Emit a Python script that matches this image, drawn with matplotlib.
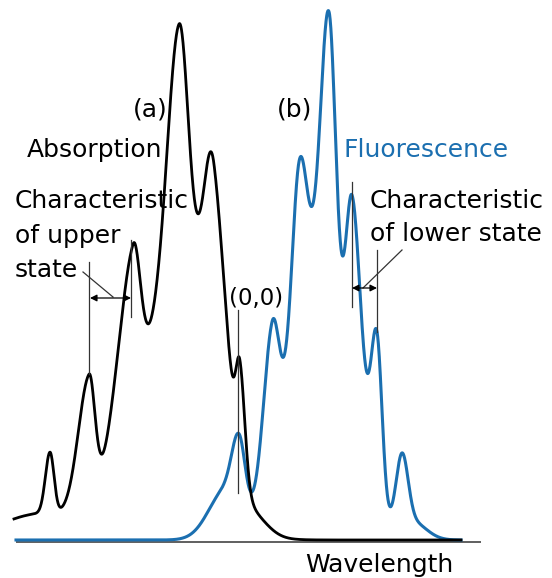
import numpy as np
import matplotlib
matplotlib.use("Agg")
import matplotlib.pyplot as plt

# ---- data (schematic spectra: band centres, heights, left/right widths; arbitrary units) ----
abs_centers = [40, 160, 205, 255, 50, 89, 133, 179, 214, 240]
abs_heights = [26, 200, 140, 14, 61, 126, 145, 277, 181, 98]
abs_wleft = [40, 35, 20, 14, 4.6, 11, 15, 12, 9, 4]
abs_wright = [40, 40, 14, 14, 4, 5.8, 7, 9, 15, 5]

flu_centers = [226, 312, 352, 362, 412, 239, 272, 299, 329, 352, 377, 402]
flu_heights = [50, 265, 90, 40, 18, 65, 150, 148, 282, 164, 153, 71]
flu_wleft = [17, 24, 18, 10, 14, 7, 9, 7, 8, 6, 5.5, 6]
flu_wright = [18, 24, 18, 10, 14, 6, 7, 7.4, 6.6, 7.3, 5.2, 6]

upper_pair = (89, 133)   # absorption bands marked "characteristic of upper state"
lower_pair = (352, 377)  # fluorescence bands marked "characteristic of lower state"
origin_band = 239        # (0,0) band

labels = {
    "a": "(a)", "b": "(b)", "abs": "Absorption", "flu": "Fluorescence",
    "origin": "(0,0)", "xlabel": "Wavelength",
}
upper_text = ["Characteristic", "of upper", "state"]
lower_text = ["Characteristic", "of lower state"]

BLUE = "#1b6fb0"
plt.rcParams["font.family"] = ["DejaVu Sans"]


def spectrum(x, centers, heights, wl, wr):
    x = np.asarray(x, dtype=float)
    y = np.zeros_like(x)
    for c, h, a, b in zip(centers, heights, wl, wr):
        w = np.where(x < c, a, b)
        y += h * np.exp(-0.5 * ((x - c) / w) ** 2)
    return y


ABS = (abs_centers, abs_heights, abs_wleft, abs_wright)
FLU = (flu_centers, flu_heights, flu_wleft, flu_wright)


def at(xv, comp):
    return float(spectrum([xv], *comp)[0])


fig = plt.figure(figsize=(5.52, 5.78), dpi=100)
ax = fig.add_axes([0, 0, 1, 1])
ax.set_xlim(0, 552)
ax.set_ylim(-38, 540)
ax.axis("off")

x_abs = np.linspace(14, 461, 2500)
x_flu = np.linspace(16, 461, 2500)
y_abs = spectrum(x_abs, *ABS)
y_flu = spectrum(x_flu, *FLU)

# axis line
ax.plot([16, 481], [-2, -2], color="#444444", lw=1.2, solid_capstyle="butt", zorder=1)

ax.plot(x_flu, y_flu, color=BLUE, lw=2.2, zorder=3)
ax.plot(x_abs, y_abs, color="black", lw=2.0, zorder=4)

ann = dict(color="#333333", lw=0.9, zorder=5)
# upper-state marks
u1, u2 = upper_pair
ax.plot([u1, u1], [at(u1, ABS), 278], **ann)
ax.plot([u2 - 2, u2 - 2], [223, at(u2, ABS) + 4], **ann)
ax.annotate("", xy=(u1 + 1, 242), xytext=(u2 - 2, 242),
            arrowprops=dict(arrowstyle="<|-|>", color="black", lw=0.9,
                            mutation_scale=10, shrinkA=0, shrinkB=0), zorder=6)
ax.plot([83, 113], [268, 243], **ann)

# lower-state marks
l1, l2 = lower_pair
ax.plot([l1, l1], [233, 358], **ann)
ax.plot([l2, l2], [at(l2, FLU), 290], **ann)
ax.annotate("", xy=(l1, 252), xytext=(l2, 252),
            arrowprops=dict(arrowstyle="<|-|>", color="black", lw=0.9,
                            mutation_scale=10, shrinkA=0, shrinkB=0), zorder=6)
ax.plot([402, 363], [290, 252], **ann)

# (0,0) mark
ax.plot([origin_band - 1, origin_band - 1], [47, 230], **ann)

fs = 18
tk = dict(fontsize=fs, ha="left", va="baseline")
ax.text(133, 423, labels["a"], color="black", **tk)
ax.text(277, 423, labels["b"], color="black", **tk)
ax.text(27, 383, labels["abs"], color="black", **tk)
ax.text(343, 383, labels["flu"], color=BLUE, **tk)
for i, s in enumerate(upper_text):
    ax.text(15, 332 - i * 34.5, s, color="black", **tk)
for i, s in enumerate(lower_text):
    ax.text(370, 332 - i * 33, s, color="black", **tk)
ax.text(229, 235, labels["origin"], color="black", fontsize=16.5, ha="left", va="baseline")
ax.text(305, -32, labels["xlabel"], color="black", **tk)

fig.savefig("out.png", dpi=100)
